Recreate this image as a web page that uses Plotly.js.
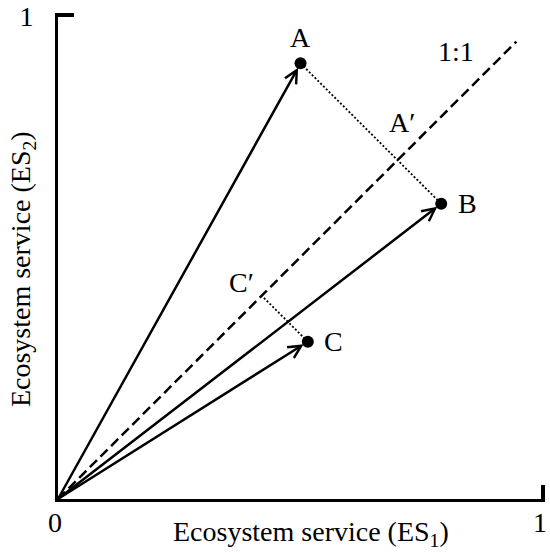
<!DOCTYPE html>
<html>
<head>
<meta charset="utf-8">
<script src="https://cdn.plot.ly/plotly-3.0.1.min.js"></script>
<style>html,body{margin:0;padding:0;background:#fff;}#chart{width:550px;height:553px;}</style>
</head>
<body>
<div id="chart"></div>
<script>
// ---- data ----
const pointNames = ['A', 'B', 'C'];
const es1Values = [0.50, 0.79, 0.515];
const es2Values = [0.90, 0.61, 0.325];
const oneToOneEnd = 0.945;
const oneToOneLabel = '1:1';
const xTickVals = [0, 1];
const xTickText = ['0', '1'];
const yTickVals = [1];
const yTickText = ['1'];
const xTitle = 'Ecosystem service (ES<sub>1</sub>)';
const yTitle = 'Ecosystem service (ES<sub>2</sub>)';

// projections onto the 1:1 line
const proj = (i) => (es1Values[i] + es2Values[i]) / 2;
const aProj = proj(0);
const cProj = proj(2);

const FONT = 'Liberation Serif, Times New Roman, serif';
const BLACK = '#000';

const traces = [
  { x: [0, oneToOneEnd], y: [0, oneToOneEnd], mode: 'lines',
    line: { color: BLACK, width: 2.5, dash: '10px,5px' }, hoverinfo: 'skip' },
  { x: [es1Values[0], es1Values[1]], y: [es2Values[0], es2Values[1]], mode: 'lines',
    line: { color: BLACK, width: 1.8, dash: '2px,2px' }, hoverinfo: 'skip' },
  { x: [es1Values[2], cProj], y: [es2Values[2], cProj], mode: 'lines',
    line: { color: BLACK, width: 1.8, dash: '2px,2px' }, hoverinfo: 'skip' },
  { x: es1Values, y: es2Values, text: pointNames, mode: 'markers',
    marker: { color: BLACK, size: 12 }, cliponaxis: false }
];

const annotations = [];
for (let i = 0; i < pointNames.length; i++) {
  annotations.push({
    x: es1Values[i], y: es2Values[i], ax: 0, ay: 0,
    xref: 'x', yref: 'y', axref: 'x', ayref: 'y',
    text: '', showarrow: true, arrowhead: 5, arrowsize: 1,
    arrowwidth: 2.5, arrowcolor: BLACK, standoff: 5
  });
}
const labelFont = { family: FONT, size: 28, color: BLACK };
annotations.push({ x: es1Values[0], y: es2Values[0], text: pointNames[0], showarrow: false, yshift: 26, font: labelFont });
annotations.push({ x: es1Values[1], y: es2Values[1], text: pointNames[1], showarrow: false, xshift: 26, font: labelFont });
annotations.push({ x: es1Values[2], y: es2Values[2], text: pointNames[2], showarrow: false, xshift: 26, font: labelFont });
annotations.push({ x: aProj, y: aProj, text: pointNames[0] + '\u2032', showarrow: false, xshift: 4, yshift: 38, font: labelFont });
annotations.push({ x: cProj, y: cProj, text: pointNames[2] + '\u2032', showarrow: false, xshift: -20, yshift: 13, font: labelFont });
annotations.push({ x: oneToOneEnd, y: oneToOneEnd, text: oneToOneLabel, showarrow: false, xshift: -60, yshift: -10, font: labelFont });
// axis titles
annotations.push({ xref: 'paper', yref: 'paper', x: 0.5195, y: -0.070, xanchor: 'center', yanchor: 'middle',
  text: xTitle, showarrow: false, font: labelFont });
annotations.push({ xref: 'paper', yref: 'paper', x: -0.074, y: 0.473, xanchor: 'center', yanchor: 'middle',
  text: yTitle, textangle: -90, showarrow: false, font: labelFont });

const layout = {
  width: 550, height: 553,
  margin: { l: 58, r: 5, t: 13, b: 54 },
  paper_bgcolor: '#fff', plot_bgcolor: '#fff',
  showlegend: false,
  font: { family: FONT, color: BLACK },
  xaxis: {
    range: [0, 1.004], showgrid: false, zeroline: false,
    showline: true, linewidth: 3, linecolor: BLACK,
    tickmode: 'array', tickvals: xTickVals, ticktext: xTickText,
    ticks: 'inside', ticklen: 14, tickwidth: 4, tickcolor: BLACK,
    ticklabeloverflow: 'allow', ticklabelshift: -3, ticklabelstandoff: -4,
    tickfont: { family: FONT, size: 28, color: BLACK }
  },
  yaxis: {
    range: [0, 1.004], showgrid: false, zeroline: false,
    showline: true, linewidth: 3, linecolor: BLACK,
    tickmode: 'array', tickvals: yTickVals, ticktext: yTickText,
    ticks: 'inside', ticklen: 16, tickwidth: 4, tickcolor: BLACK,
    ticklabeloverflow: 'allow', ticklabelstandoff: 16, ticklabelshift: 1,
    tickfont: { family: FONT, size: 28, color: BLACK }
  },
  annotations: annotations
};

Plotly.newPlot('chart', traces, layout, { staticPlot: true, displayModeBar: false });
</script>
</body>
</html>
